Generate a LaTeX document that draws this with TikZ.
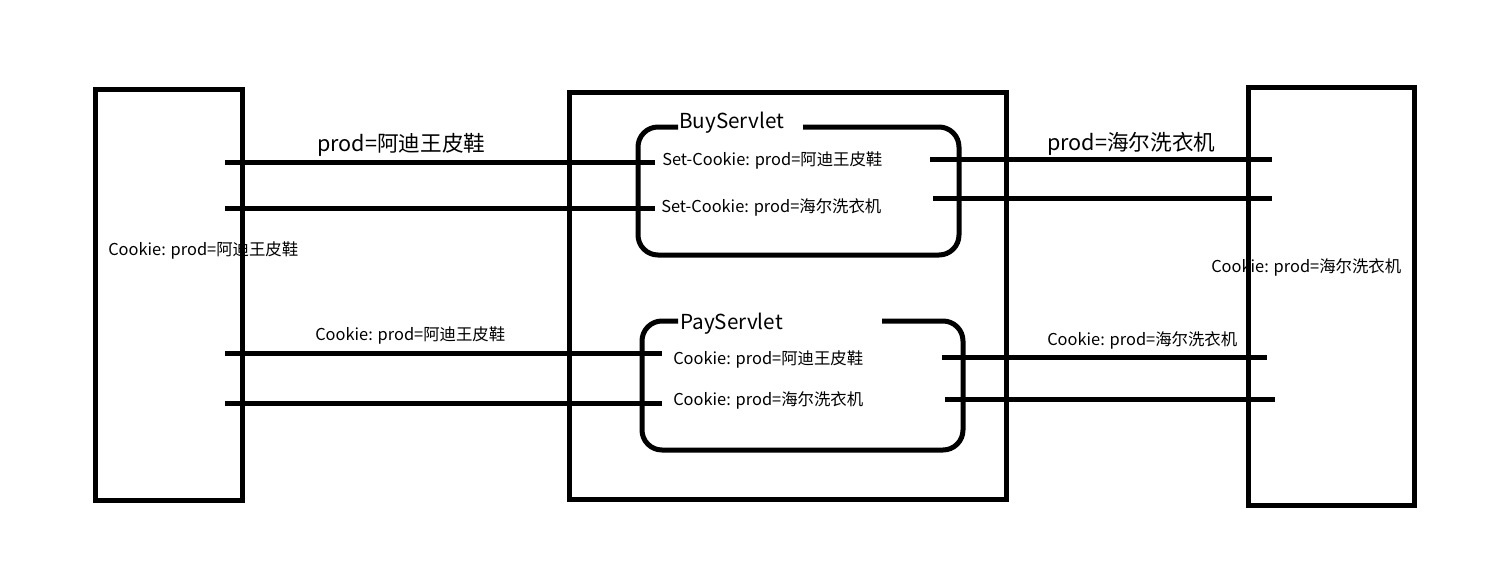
\documentclass[tikz,border=0pt]{standalone}
\usepackage{fontspec}
\setmainfont{Noto Sans CJK SC}
\usetikzlibrary{positioning}

\begin{document}
\begin{tikzpicture}[x=0.75pt, y=-0.75pt,
    box/.style={draw, line width=3.75pt, inner sep=0pt},
    wire/.style={line width=3.75pt},
    small/.style={font=\fontsize{12.3}{14}\selectfont, inner sep=0pt, anchor=west},
    big/.style={font=\fontsize{15.5}{18}\selectfont, inner sep=0pt, anchor=west},
    request/.style={font=\fontsize{16.2}{18}\selectfont, inner sep=0pt, anchor=west}]
        \useasboundingbox (0,0) rectangle (1511,571);

        \node[box, minimum width=110.25pt, minimum height=308.25pt] (browser) at (168.5, 294.5) {};
        \node[box, minimum width=327.75pt, minimum height=305.25pt] (server) at (787.5, 295.5) {};
        \node[box, minimum width=124.5pt, minimum height=313.5pt] (browser2) at (1331, 296) {};

        \draw[wire, rounded corners=15pt] (678,127) -- (638,127) -- (638,255) -- (959,255) -- (959,127) -- (803,127);
        \draw[wire, rounded corners=15pt] (678,321) -- (642,321) -- (642,450) -- (963,450) -- (963,321) -- (882,321);

        \node[big] (buy) at (679, 123) {BuyServlet};
        \node[big] (pay) at (680, 324) {PayServlet};
        \node[small] (setA) at (662, 160.5) {Set-Cookie: prod=阿迪王皮鞋};
        \node[small] (setH) at (661, 207.5) {Set-Cookie: prod=海尔洗衣机};
        \node[small] (getA) at (673, 359.5) {Cookie: prod=阿迪王皮鞋};
        \node[small] (getH) at (673, 400.5) {Cookie: prod=海尔洗衣机};
        \node[small] (keepA) at (108, 250.5) {Cookie: prod=阿迪王皮鞋};
        \node[small] (keepH) at (1211, 267.5) {Cookie: prod=海尔洗衣机};
        \node[request] (reqA) at (317, 145) {prod=阿迪王皮鞋};
        \node[request] (reqH) at (1047, 144) {prod=海尔洗衣机};
        \node[small] (sendA) at (315, 335.5) {Cookie: prod=阿迪王皮鞋};
        \node[small] (sendH) at (1047, 340.5) {Cookie: prod=海尔洗衣机};

        \coordinate (l1) at (225, 162);  \coordinate (m1) at (655, 162);
        \coordinate (l2) at (225, 208);  \coordinate (m2) at (655, 208);
        \coordinate (l3) at (225, 353);  \coordinate (m3) at (662, 353);
        \coordinate (l4) at (225, 403);  \coordinate (m4) at (662, 403);
        \coordinate (n1) at (930, 159);  \coordinate (r1) at (1272, 159);
        \coordinate (n2) at (933, 198);  \coordinate (r2) at (1272, 198);
        \coordinate (n3) at (942, 357);  \coordinate (r3) at (1267, 357);
        \coordinate (n4) at (945, 399);  \coordinate (r4) at (1275, 399);

        \draw[wire] (l1) to (m1)
            (l2) to (m2)
            (l3) to (m3)
            (l4) to (m4);
        \draw[wire] (n1) to (r1)
            (n2) to (r2)
            (n3) to (r3)
            (n4) to (r4);
    \end{tikzpicture}
\end{document}
